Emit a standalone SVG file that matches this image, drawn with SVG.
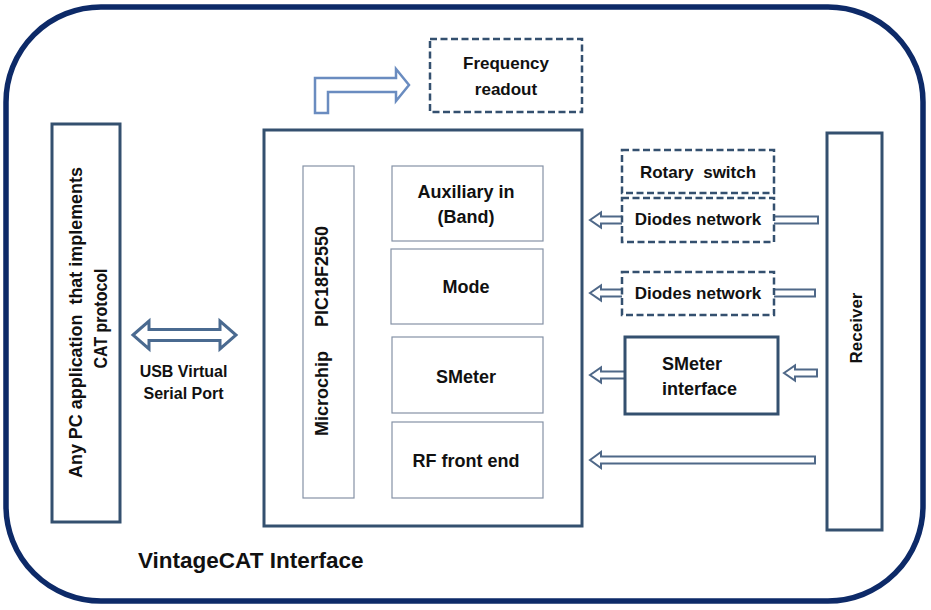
<svg xmlns="http://www.w3.org/2000/svg" width="931" height="610" viewBox="0 0 931 610">
<style>
text{font-family:"Liberation Sans",Arial,sans-serif;font-weight:bold;fill:#111;}
.box{fill:#fff;stroke:#34506f;stroke-width:3;}
.thin{fill:#fff;stroke:#8592a6;stroke-width:1.2;}
.dash{fill:#fff;stroke:#34506f;stroke-width:2.5;stroke-dasharray:7 3.5;}
.arr{fill:#fff;stroke:#4f6888;stroke-width:2;stroke-linejoin:miter;}
.c{text-anchor:middle;}
.pre{white-space:pre;}
</style>
<rect x="6" y="7" width="917" height="594" rx="95" ry="95" fill="#fff" stroke="#0d2a68" stroke-width="5.5"/>

<g id="connectors">
  <path class="arr" d="M315,113 L315,78 L396,78 L396,69 L409,85 L396,101 L396,92 L328,92 L328,113 Z" style="stroke:#6a8cc0;stroke-width:2.5"/>
  <path class="arr" d="M133,335 L149,321 L149,329.5 L220,329.5 L220,321 L236,335 L220,349 L220,340.5 L149,340.5 L149,349 Z" style="stroke:#4a6a90;stroke-width:3"/>
  <path class="arr" d="M590,220 L601,212.5 L601,216.5 L818,216.5 L818,223.5 L601,223.5 L601,227.5 Z"/>
  <path class="arr" d="M590,293 L601,285.5 L601,289.5 L815,289.5 L815,296.5 L601,296.5 L601,300.5 Z"/>
  <path class="arr" d="M590,375 L601,367.5 L601,371.5 L626,371.5 L626,378.5 L601,378.5 L601,382.5 Z"/>
  <path class="arr" d="M784,373 L795,365.5 L795,369.5 L817,369.5 L817,376.5 L795,376.5 L795,380.5 Z"/>
  <path class="arr" d="M590,460 L601,452 L601,456.5 L815,456.5 L815,463.5 L601,463.5 L601,468 Z"/>
</g>

<g id="pc-app">
  <rect class="box" x="52" y="124" width="68" height="398"/>
  <text transform="translate(82,322.5) rotate(-90)" class="c pre" font-size="18" textLength="311" lengthAdjust="spacingAndGlyphs">Any PC application  that implements</text>
  <text transform="translate(107,318.5) rotate(-90)" class="c" font-size="18" textLength="100" lengthAdjust="spacingAndGlyphs">CAT protocol</text>
</g>

<g id="usb-label">
  <text x="183.5" y="377" class="c" font-size="16">USB Virtual</text>
  <text x="183.5" y="399" class="c" font-size="16">Serial Port</text>
</g>

<g id="main-box">
  <rect class="box" x="264" y="130" width="318" height="396"/>
</g>

<g id="microchip">
  <rect class="thin" x="303" y="166" width="51" height="332"/>
  <text transform="translate(328,393.5) rotate(-90)" class="c" font-size="18">Microchip</text>
  <text transform="translate(328,276.5) rotate(-90)" class="c" font-size="18">PIC18F2550</text>
</g>

<g id="aux-in">
  <rect class="thin" x="392" y="166" width="151" height="75"/>
  <text x="466" y="198" class="c" font-size="18">Auxiliary in</text>
  <text x="466" y="223" class="c" font-size="18">(Band)</text>
</g>

<g id="mode">
  <rect class="thin" x="391" y="249" width="152" height="75"/>
  <text x="466" y="293" class="c" font-size="18">Mode</text>
</g>

<g id="smeter">
  <rect class="thin" x="392" y="337" width="151" height="76"/>
  <text x="466" y="383" class="c" font-size="18">SMeter</text>
</g>

<g id="rf-front-end">
  <rect class="thin" x="392" y="422" width="151" height="76"/>
  <text x="466" y="467" class="c" font-size="18">RF front end</text>
</g>

<g id="frequency-readout">
  <rect class="dash" x="430" y="39" width="152" height="73"/>
  <text x="506" y="69" class="c" font-size="17">Frequency</text>
  <text x="506" y="95" class="c" font-size="17">readout</text>
</g>

<g id="rotary-switch">
  <rect class="dash" x="622" y="150" width="152" height="43"/>
  <text x="698" y="178" class="c pre" font-size="17">Rotary  switch</text>
</g>

<g id="diodes-network-1">
  <rect class="dash" x="622" y="198" width="152" height="44"/>
  <text x="698" y="225" class="c" font-size="17">Diodes network</text>
</g>

<g id="diodes-network-2">
  <rect class="dash" x="622" y="272" width="152" height="43"/>
  <text x="698" y="299" class="c" font-size="17">Diodes network</text>
</g>

<g id="smeter-interface">
  <rect class="box" x="625" y="337" width="153" height="77"/>
  <text x="662" y="370" font-size="18">SMeter</text>
  <text x="662" y="395" font-size="18">interface</text>
</g>

<g id="receiver">
  <rect class="box" x="827" y="133" width="55" height="397"/>
  <text transform="translate(862,328) rotate(-90)" class="c" font-size="17">Receiver</text>
</g>

<g id="title">
  <text x="138" y="568" font-size="22.5">VintageCAT Interface</text>
</g>
</svg>
